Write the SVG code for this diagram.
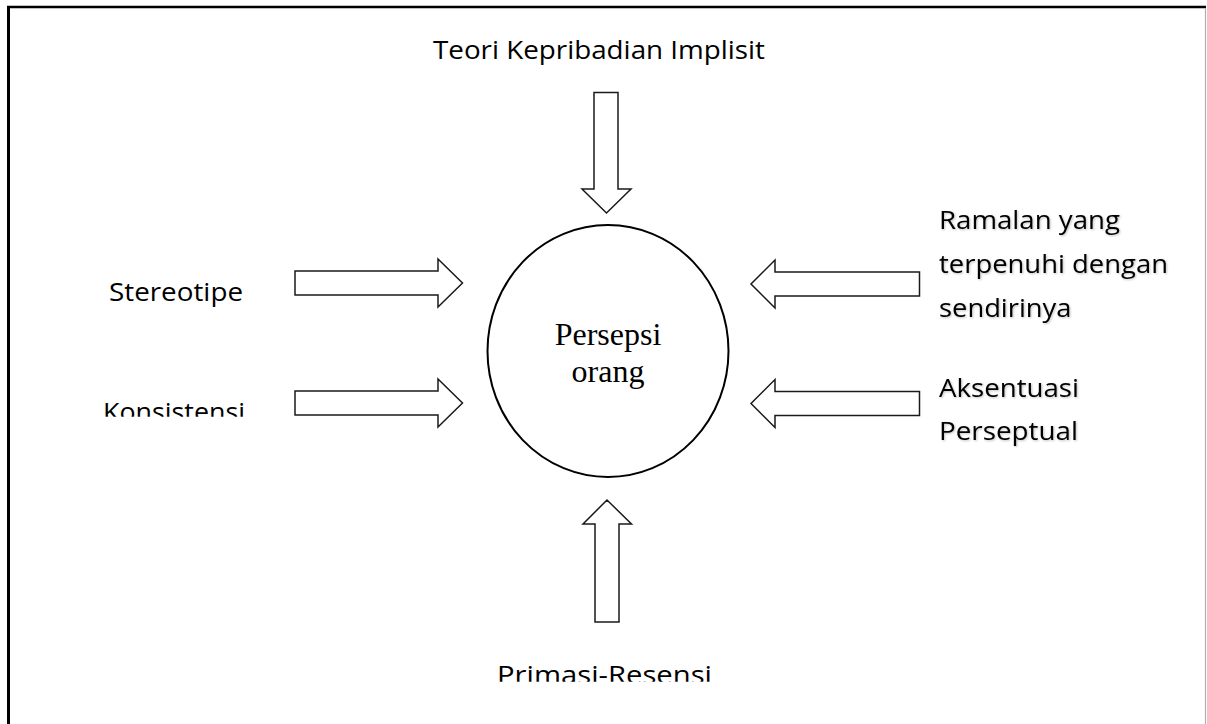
<svg xmlns="http://www.w3.org/2000/svg" width="1207" height="724" viewBox="0 0 1207 724">
  <defs>
    <style>
      .lbl { font-family: "Open Sans", Lato, "Liberation Sans", sans-serif; font-size: 25.5px; fill: #000; font-variant-ligatures: none; }
      .rlbl { font-family: "Open Sans", Lato, "Liberation Sans", sans-serif; font-size: 25.5px; fill: #000; font-variant-ligatures: none; filter: url(#glow); }
      .serif { font-family: "Liberation Serif", "Times New Roman", serif; font-size: 32px; fill: #000; text-anchor: middle; }
      .arrow { fill: #fff; stroke: #1a1a1a; stroke-width: 1.5; stroke-linejoin: miter; }
    </style>
    <filter id="glow" x="-10%" y="-30%" width="120%" height="160%">
      <feGaussianBlur in="SourceAlpha" stdDeviation="1.2" result="b"/>
      <feFlood flood-color="#000" flood-opacity="0.25"/>
      <feComposite in2="b" operator="in" result="s"/>
      <feOffset dx="1" dy="1" result="o"/>
      <feMerge><feMergeNode in="o"/><feMergeNode in="SourceGraphic"/></feMerge>
    </filter>
    <clipPath id="clipKons"><rect x="0" y="380" width="300" height="36.7"/></clipPath>
    <clipPath id="clipPrim"><rect x="450" y="640" width="300" height="41.7"/></clipPath>
  </defs>

  <rect x="0" y="0" width="1207" height="724" fill="#fff"/>

  <g id="frame">
    <line x1="7" y1="7" x2="1206" y2="7" stroke="#000" stroke-width="2.5"/>
    <line x1="8.5" y1="6" x2="8.5" y2="724" stroke="#000" stroke-width="3"/>
    <line x1="1205.5" y1="8" x2="1205.5" y2="724" stroke="#b0b0b0" stroke-width="1.2"/>
  </g>

  <g id="connectors">
    <polygon id="arrow-top" class="arrow" points="594,92.5 618,92.5 618,189 631,189 606.5,213 582,189 594,189"/>
    <polygon id="arrow-bottom" class="arrow" points="595,622 619,622 619,524 631.5,524 607,500 583,524 595,524"/>
    <polygon id="arrow-stereotipe" class="arrow" points="295,271 438,271 438,259 462.5,283 438,307 438,295 295,295"/>
    <polygon id="arrow-konsistensi" class="arrow" points="295,391 438,391 438,379 462.5,403 438,427 438,415 295,415"/>
    <polygon id="arrow-ramalan" class="arrow" points="919.5,272 775,272 775,260 751,284 775,308 775,296 919.5,296"/>
    <polygon id="arrow-aksentuasi" class="arrow" points="919.5,391.5 775,391.5 775,379.5 751,403.5 775,427.5 775,415.5 919.5,415.5"/>
  </g>

  <g id="node-persepsi">
    <ellipse cx="608" cy="351" rx="120.5" ry="126" fill="#fff" stroke="#000" stroke-width="2"/>
    <text class="serif" x="608" y="345">Persepsi</text>
    <text class="serif" x="608" y="381.7">orang</text>
  </g>

  <g id="node-teori">
    <text class="lbl" x="433" y="59" textLength="332" lengthAdjust="spacingAndGlyphs">Teori Kepribadian Implisit</text>
  </g>

  <g id="node-stereotipe">
    <text class="lbl" x="109" y="301" textLength="134" lengthAdjust="spacingAndGlyphs">Stereotipe</text>
  </g>

  <g id="node-konsistensi" clip-path="url(#clipKons)">
    <text class="lbl" x="103" y="421" textLength="142" lengthAdjust="spacingAndGlyphs">Konsistensi</text>
  </g>

  <g id="node-ramalan">
    <text class="rlbl" x="939" y="228.5" textLength="181" lengthAdjust="spacingAndGlyphs">Ramalan yang</text>
    <text class="rlbl" x="939" y="272.5" textLength="229" lengthAdjust="spacingAndGlyphs">terpenuhi dengan</text>
    <text class="rlbl" x="939" y="316.5" textLength="132.5" lengthAdjust="spacingAndGlyphs">sendirinya</text>
  </g>

  <g id="node-aksentuasi">
    <text class="rlbl" x="939" y="396.5" textLength="140" lengthAdjust="spacingAndGlyphs">Aksentuasi</text>
    <text class="rlbl" x="939" y="440" textLength="139" lengthAdjust="spacingAndGlyphs">Perseptual</text>
  </g>

  <g id="node-primasi" clip-path="url(#clipPrim)">
    <text class="lbl" x="497" y="684" textLength="215" lengthAdjust="spacingAndGlyphs">Primasi-Resensi</text>
  </g>
</svg>
